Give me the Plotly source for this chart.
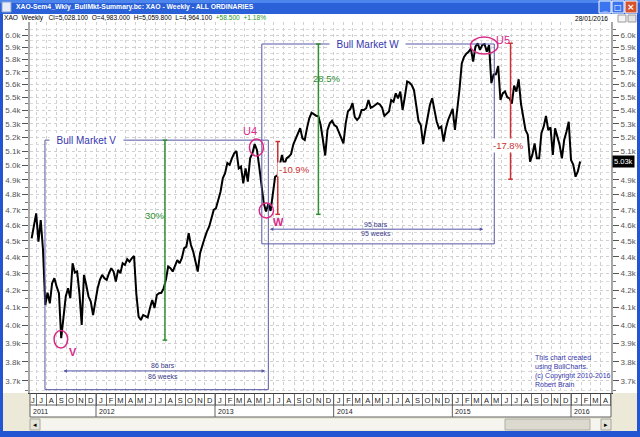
import math
import pandas as pd
import plotly.graph_objects as go

# ---------------- data (weekly closes, XAO All Ordinaries) ----------------
first_week = "2011-06-17"
close = [4516, 4585, 4676, 4495, 4633, 4443, 4114, 4185, 4124, 4241,
         4271, 4221, 4182, 3928, 4048, 4163, 4211, 4153, 4361, 4305,
         4311, 4182, 4001, 4291, 4231, 4163, 4134, 4057, 4134, 4211,
         4261, 4291, 4271, 4261, 4301, 4331, 4311, 4251, 4321, 4301,
         4361, 4351, 4386, 4371, 4391, 4406, 4180, 4048, 4029, 4057,
         4051, 4043, 4097, 4143, 4097, 4172, 4182, 4185, 4211, 4261,
         4341, 4331, 4311, 4351, 4381, 4361, 4392, 4453, 4464, 4548,
         4474, 4433, 4371, 4311, 4423, 4474, 4516, 4558, 4590, 4643,
         4699, 4710, 4776, 4820, 4911, 4946, 5017, 5004, 5050, 5085,
         5102, 4980, 4992, 4877, 4980, 4888, 5050, 5085, 5152, 5110,
         4992, 4866, 4742, 4688, 4740, 4692, 4790, 4922, 4929, 5015,
         5074, 5004, 5050, 5062, 5080, 5150, 5190, 5230, 5268, 5193,
         5181, 5268, 5340, 5382, 5370, 5360, 5356, 5291, 5181, 5070,
         5254, 5303, 5322, 5291, 5279, 5242, 5193, 5157, 5303, 5394,
         5410, 5455, 5350, 5328, 5348, 5403, 5403, 5416, 5479, 5420,
         5428, 5440, 5455, 5445, 5420, 5358, 5378, 5391, 5479, 5466,
         5530, 5492, 5543, 5403, 5505, 5622, 5614, 5595, 5556, 5453,
         5320, 5291, 5152, 5254, 5352, 5441, 5492, 5391, 5315, 5266,
         5279, 5170, 5266, 5328, 5366, 5412, 5254, 5391, 5560, 5766,
         5819, 5846, 5860, 5888, 5781, 5903, 5930, 5876, 5917, 5925,
         5862, 5917, 5610, 5678, 5680, 5746, 5479, 5530, 5545, 5500,
         5491, 5452, 5590, 5544, 5640, 5452, 5366, 5254, 5220, 5027,
         5074, 5157, 5050, 5050, 5230, 5279, 5358, 5254, 5273, 5074,
         5266, 5206, 5145, 5050, 5181, 5242, 5315, 5039, 5004, 4922,
         4958, 5028]
last_close = 5028.1

y_ticks = list(range(3700, 6001, 100))
y_tick_text = [f"{v / 1000:.1f}k" for v in y_ticks]
y_minor = list(range(3650, 6101, 100))

month_initials = "JFMAMJJASOND"
month_starts = pd.date_range("2011-07-01", "2016-05-01", freq="MS")
month_label_dates = [pd.Timestamp("2011-06-21")] + [m + pd.Timedelta(days=15) for m in month_starts[:-1]]
month_label_text = ["J"] + [month_initials[m.month - 1] for m in month_starts[:-1]]
years = ["2011", "2012", "2013", "2014", "2015", "2016"]

x_range = ["2011-06-12", "2016-05-03"]
y_range_vals = (3638, 6110)

toolbar_text = "XAO\u00a0\u00a0Weekly\u00a0\u00a0\u00a0Cl=5,028.100\u00a0\u00a0O=4,983.000\u00a0\u00a0H=5,059.800\u00a0\u00a0L=4,964.100"
toolbar_change = "+58.500\u00a0\u00a0+1.18%"
window_title = "XAO-Sem4_Wkly_BullMkt-Summary.bc: XAO - Weekly - ALL ORDINARIES"
chart_date = "28/01/2016"

dates = pd.date_range(first_week, periods=len(close), freq="7D")

# ---------------- figure ----------------
W, H = 640, 437
PL, PR, PT, PB = 30, 611, 22, 393


def fx(px):
    return (px - PL) / (PR - PL)


def fy(py):
    return (PB - py) / (PB - PT)


L10 = math.log10
FONT = "Liberation Sans"
MAG = "#D92A88"
BOXC = "#5656A6"
TXTB = "#3636AE"
GREEN = "#2F8F2F"
RED = "#CC3030"

fig = go.Figure()
fig.add_trace(go.Scatter(x=dates, y=close, mode="lines",
                         line=dict(color="black", width=2),
                         hoverinfo="skip", showlegend=False))
fig.add_trace(go.Scatter(x=dates, y=close, mode="lines", yaxis="y2",
                         line=dict(color="rgba(0,0,0,0)", width=0),
                         hoverinfo="skip", showlegend=False))

shapes = []
annots = []


def prect(x0, y0, x1, y1, fill, line_color=None, lw=0):
    shapes.append(dict(type="rect", xref="paper", yref="paper",
                       x0=fx(x0), x1=fx(x1), y0=fy(y1), y1=fy(y0),
                       fillcolor=fill, layer="below",
                       line=dict(width=lw, color=line_color or fill)))


def pline(x0, y0, x1, y1, color, lw=1):
    shapes.append(dict(type="line", xref="paper", yref="paper",
                       x0=fx(x0), x1=fx(x1), y0=fy(y0), y1=fy(y1),
                       line=dict(color=color, width=lw)))


def ptext(x, y, text, size=7, color="black", xanchor="left", bold=False, family=FONT):
    annots.append(dict(xref="paper", yref="paper", x=fx(x), y=fy(y), text=f"<b>{text}</b>" if bold else text,
                       showarrow=False, xanchor=xanchor, yanchor="middle",
                       font=dict(family=family, size=size, color=color)))


# window chrome
BLUE = "#2355D2"
prect(0, 0, 640, 14, "#2B61D8")
prect(0, 0, 640, 3, "#4C86EC")
prect(0, 14, 3, 437, BLUE)
prect(637, 14, 640, 437, BLUE)
prect(0, 431, 640, 437, BLUE)
prect(3, 393, 637, 431, "#ECE9D8")
prect(PL, 393, PR, 417, "white")
prect(3, 14, 637, 22, "white")
# title bar icon + buttons
prect(2, 2, 11, 12, "#E8ECF8", "#8AA0D0", 1)
prect(599, 1, 611, 13, "#3A74EE", "white", 1)
prect(612, 1, 624, 13, "#3A74EE", "white", 1)
prect(625, 1, 637, 13, "#D8532C", "white", 1)
ptext(605, 8, "_", size=8, color="white", xanchor="center", bold=True)
ptext(618, 7, "\u25a1", size=8, color="white", xanchor="center", bold=True, family="DejaVu Sans")
ptext(631, 7, "\u00d7", size=9, color="white", xanchor="center", bold=True, family="DejaVu Sans")
ptext(14, 7, window_title, size=6.8, color="white", bold=True)
# toolbar
annots.append(dict(xref="paper", yref="paper", x=fx(2), y=fy(18), showarrow=False,
                   xanchor="left", yanchor="middle",
                   text=toolbar_text + "\u00a0\u00a0<span style='color:#1E9A1E'>" + toolbar_change + "</span>",
                   font=dict(family=FONT, size=6.6, color="black")))
ptext(610, 18, chart_date, size=6.6, xanchor="right")
prect(618, 15, 626, 22, "#F4F4F4", "#9A9A9A", 1)
prect(628, 15, 636, 22, "#E4E4E4", "#9A9A9A", 1)
# month / year rows borders
pline(PL, 405, PR, 405, "#606060")
pline(PL, 417, PR, 417, "#606060")
pline(PL, 393, PL, 417, "#606060")
pline(PR, 393, PR, 417, "#606060")
# scrollbar
prect(PL, 419, PR, 430, "#F5F4EF")
prect(PL, 419, PL + 10, 430, "#E6E3D8", "#A8A8A0", 1)
prect(PR - 10, 419, PR, 430, "#E6E3D8", "#A8A8A0", 1)
prect(505, 419, 590, 430, "#DCD9CE", "#B0AEA6", 1)
ptext(PL + 5, 424.5, "\u25c2", size=7, xanchor="center", family="DejaVu Sans")
ptext(PR - 5, 424.5, "\u25b8", size=7, xanchor="center", family="DejaVu Sans")

# year separators and labels (placed through the date axis)
for yr in years:
    d = pd.Timestamp(f"{yr}-01-01")
    if d > pd.Timestamp(x_range[0]):
        shapes.append(dict(type="line", xref="x", yref="paper", x0=d, x1=d,
                           y0=fy(393), y1=fy(417), line=dict(color="#606060", width=1)))
    xd = max(d, pd.Timestamp(x_range[0]))
    annots.append(dict(xref="x", yref="paper", x=xd, y=fy(411), text=yr, showarrow=False,
                       xanchor="left", yanchor="middle", xshift=1,
                       font=dict(family=FONT, size=7, color="#222")))

# copyright text
annots.append(dict(xref="paper", yref="paper", x=fx(533), y=fy(352), showarrow=False,
                   xanchor="left", yanchor="top", align="left",
                   text="This chart created<br>using BullCharts.<br>(c) Copyright 2010-2016<br>Robert Brain",
                   font=dict(family=FONT, size=7, color=TXTB)))

# ---------------- chart annotations (data coordinates) ----------------
# shapes on a log axis take data values; annotations take log10 values


def drect(x0, x1, lo, hi):
    shapes.append(dict(type="rect", xref="x", yref="y", x0=x0, x1=x1, y0=lo, y1=hi,
                       line=dict(color=BOXC, width=1), fillcolor="rgba(0,0,0,0)"))


def dcircle(x0, x1, lo, hi):
    shapes.append(dict(type="circle", xref="x", yref="y", x0=x0, x1=x1, y0=lo, y1=hi,
                       line=dict(color=MAG, width=1.5), fillcolor="rgba(0,0,0,0)"))


def dmeasure(xd, lo, hi, color):
    shapes.append(dict(type="line", xref="x", yref="y", x0=xd, x1=xd, y0=lo, y1=hi,
                       line=dict(color=color, width=1.5)))
    t = pd.Timestamp(xd)
    for v in (lo, hi):
        shapes.append(dict(type="line", xref="x", yref="y", x0=t - pd.Timedelta(days=7),
                           x1=t + pd.Timedelta(days=7), y0=v, y1=v,
                           line=dict(color=color, width=1.5)))


def dtext(xd, v, text, color, size=9.5, xanchor="center", bg=None, bold=False):
    a = dict(xref="x", yref="y", x=xd, y=L10(v), text=f"<b>{text}</b>" if bold else text,
             showarrow=False, xanchor=xanchor, yanchor="middle",
             font=dict(family=FONT, size=size, color=color))
    if bg:
        a.update(bgcolor=bg, borderpad=1)
    annots.append(a)


def dspan(x0, x1, v, top_text, bottom_text, v_top, v_bot, xc):
    annots.append(dict(xref="x", yref="y", axref="x", ayref="y", x=x1, y=L10(v), ax=x0, ay=L10(v),
                       text="", showarrow=True, arrowhead=2, arrowside="end+start",
                       arrowsize=0.7, arrowwidth=1, arrowcolor=BOXC, standoff=0, startstandoff=0))
    dtext(xc, v_top, top_text, "#3A3A8A", size=7)
    dtext(xc, v_bot, bottom_text, "#3A3A8A", size=7)


# Bull market V
drect("2011-07-28", "2013-06-14", 3655, 5180)
dtext("2011-12-04", 5180, "\u00a0\u00a0Bull Market V\u00a0\u00a0", TXTB, size=10, bg="white")
dmeasure("2012-07-31", 3917, 5180, GREEN)
dtext("2012-08-07", 4665, "30%", GREEN, xanchor="right")
dspan("2011-09-18", "2013-06-04", 3752, "86 bars", "86 weeks", 3778, 3723, "2012-07-26")

# Bull market W
drect("2013-05-25", "2015-05-10", 4481, 5925)
dtext("2014-04-15", 5925, "\u00a0\u00a0Bull Market W\u00a0\u00a0", TXTB, size=10, bg="white")
dmeasure("2013-11-15", 4670, 5925, GREEN)
dtext("2013-12-11", 5650, "28.5%", GREEN)
dspan("2013-06-14", "2015-04-06", 4574, "95 bars", "95 weeks", 4601, 4548, "2014-05-11")

# corrections
dmeasure("2013-07-13", 4670, 5170, RED)
dtext("2013-07-10", 4969, "-10.9%", RED, xanchor="left", bg="white")
dmeasure("2015-06-29", 4905, 5931, RED)
dtext("2015-06-24", 5140, "-17.8%", RED, bg="white")

# turning points
dcircle("2011-08-25", "2011-10-06", 3874, 3970)
dtext("2011-10-21", 3850, "V", MAG, size=11, bold=True)
dcircle("2013-04-17", "2013-05-30", 5066, 5188)
dtext("2013-04-19", 5247, "U4", MAG, size=11)
dcircle("2013-05-17", "2013-06-30", 4646, 4744)
dtext("2013-07-14", 4618, "W", MAG, size=11, bold=True)
dcircle("2015-02-26", "2015-05-21", 5842, 5983)
dtext("2015-06-06", 5958, "U5", MAG, size=11)

# last value marker on right axis (it covers the 5.0k label there)
annots.append(dict(xref="paper", yref="y", x=1, y=L10(last_close), xanchor="left", yanchor="middle",
                   xshift=1, showarrow=False, text=f"{last_close / 1000:.2f}k", bgcolor="black",
                   borderpad=1, font=dict(family=FONT, size=7.5, color="white")))
right_tick_text = ["" if v == 5000 else t for v, t in zip(y_ticks, y_tick_text)]

yaxis_common = dict(type="log", range=[L10(y_range_vals[0]), L10(y_range_vals[1])],
                    tickmode="array", tickvals=y_ticks,
                    ticks="outside", ticklen=6, tickcolor="#555", tickwidth=1,
                    tickfont=dict(family=FONT, size=8, color="#555"),
                    showline=True, linecolor="#A8A8A8", linewidth=2,
                    zeroline=False, fixedrange=True, automargin=False)

fig.update_layout(
    width=W, height=H,
    margin=dict(l=PL, r=W - PR, t=PT, b=H - PB, pad=0, autoexpand=False),
    paper_bgcolor="white", plot_bgcolor="white",
    font=dict(family=FONT, size=8, color="#222"),
    showlegend=False, hovermode=False,
    xaxis=dict(type="date", range=x_range, tickmode="array",
               tickvals=month_label_dates, ticktext=month_label_text, ticks="",
               tickfont=dict(family=FONT, size=7.5, color="#222"),
               showgrid=False, showline=True, linecolor="#404040", linewidth=1,
               zeroline=False, fixedrange=True, automargin=False,
               minor=dict(tickmode="array", tickvals=list(month_starts), ticks="outside", ticklen=12,
                          tickcolor="#707070", tickwidth=1, showgrid=True,
                          gridcolor="#CFCFCF", griddash="dot", gridwidth=1)),
    yaxis=dict(**yaxis_common, ticktext=y_tick_text, side="left", showgrid=True,
               gridcolor="#CFCFCF", griddash="dot",
               minor=dict(tickmode="array", tickvals=y_minor, ticks="outside", ticklen=3,
                          tickcolor="#777", showgrid=True, gridcolor="#DADADA", griddash="dot")),
    yaxis2=dict(**yaxis_common, ticktext=right_tick_text, side="right", overlaying="y",
                anchor="x", showgrid=False,
                minor=dict(tickmode="array", tickvals=y_minor, ticks="outside", ticklen=3,
                           tickcolor="#777", showgrid=False)),
    shapes=shapes,
    annotations=annots,
)

fig.write_html("out.html", config={"displayModeBar": False},
               post_script="document.documentElement.style.margin='0';document.body.style.margin='0';document.body.style.padding='0';")
